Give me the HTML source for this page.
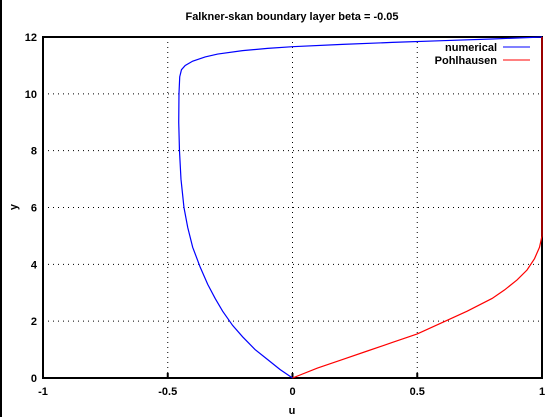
<!DOCTYPE html>
<html><head><meta charset="utf-8"><style>
body{margin:0;background:#fff;}
svg{display:block;font-family:"Liberation Sans",sans-serif;font-weight:bold;font-size:11px;}
</style></head><body>
<svg id="c" width="557" height="417">
<line x1="1" y1="0" x2="1" y2="417" stroke="#000" stroke-width="2"/>
<text x="292" y="20" text-anchor="middle">Falkner-skan boundary layer beta = -0.05</text>
<text x="292" y="414" text-anchor="middle">u</text>
<text x="14" y="210" text-anchor="middle" transform="rotate(-90 14 207)">y</text>
<g id="grid"></g>
<rect x="43" y="37" width="499" height="341" fill="none" stroke="#000" stroke-width="2"/>
<g id="series"></g>
<g>
<text x="497" y="51" text-anchor="end">numerical</text>
<line x1="503" y1="47" x2="530" y2="47" stroke="#00f"/>
<text x="497" y="64" text-anchor="end">Pohlhausen</text>
<line x1="503" y1="60" x2="530" y2="60" stroke="#f00"/>
</g>
</svg>
<script>
const xTicks=[-1,-0.5,0,0.5,1];
const xTickLabels=["-1","-0.5","0","0.5","1"];
const yTicks=[0,2,4,6,8,10,12];
const numU=[0,-0.05,-0.1,-0.15,-0.2,-0.24,-0.28,-0.31,-0.34,-0.37,-0.4,-0.42,-0.435,-0.447,-0.453,-0.456,-0.455,-0.452,-0.445,-0.43,-0.4,-0.35,-0.3,-0.2,-0.1,0,0.2,0.4,0.6,0.8,1];
const numY=[0,0.3,0.65,1.0,1.45,1.85,2.35,2.8,3.3,3.9,4.6,5.3,6.0,7.0,8.0,9.0,10.0,10.6,10.85,11.0,11.15,11.3,11.4,11.52,11.6,11.66,11.74,11.81,11.87,11.93,12];
const polU=[0,0.1,0.2,0.3,0.4,0.5,0.6,0.7,0.8,0.85,0.9,0.94,0.97,0.99,1,1];
const polY=[0,0.35,0.65,0.95,1.25,1.55,1.95,2.35,2.8,3.1,3.45,3.8,4.2,4.6,5,12];
const L=43,R=542,T=37,B=378;
const sx=u=>L+(u+1)/2*(R-L), sy=v=>B-v/12*(B-T);
const NS="http://www.w3.org/2000/svg";
const g=document.getElementById('grid'), s=document.getElementById('series');
function mk(tag,attrs,parent){const e=document.createElementNS(NS,tag);for(const k in attrs)e.setAttribute(k,attrs[k]);parent.appendChild(e);return e;}
xTicks.forEach((t,i)=>{
 const x=sx(t);
 if(i>0&&i<xTicks.length-1){const l=mk('line',{x1:x,y1:T,x2:x,y2:B,stroke:'#000','stroke-dasharray':'1,4'},g);
 
 }
 const tk=mk('line',{x1:x,y1:B,x2:x,y2:B-5,stroke:'#000','stroke-width':2},g);
 
 
 const tx=mk('text',{x:x,y:B+17,'text-anchor':'middle'},g);tx.textContent=xTickLabels[i];
 
 
});
yTicks.forEach((t,i)=>{
 const y=sy(t);
 if(i>0&&i<yTicks.length-1){const l=mk('line',{x1:L,y1:y,x2:R,y2:y,stroke:'#000','stroke-dasharray':'1,4'},g);
 
 }
 const tx=mk('text',{x:L-6,y:y+4,'text-anchor':'end'},g);tx.textContent=String(t);
 
 
});
function path(us,ys,col,name){
 const p=mk('polyline',{points:us.map((u,i)=>sx(u)+','+sy(ys[i])).join(' '),fill:'none',stroke:col,'stroke-width':1.2},s);
 
 
}
path(numU,numY,'#00f','numerical-line');
path(polU,polY,'#f00','pohlhausen-line');
</script>
</body></html>
